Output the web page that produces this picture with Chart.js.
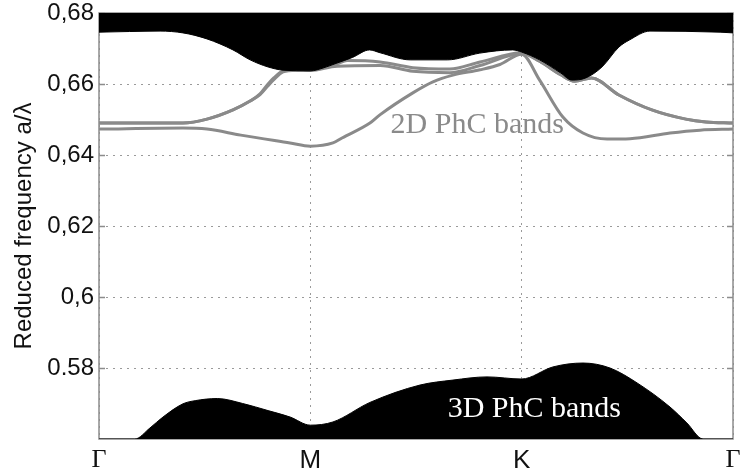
<!DOCTYPE html>
<html>
<head>
<meta charset="utf-8">
<script src="https://cdn.jsdelivr.net/npm/chart.js@4.4.1/dist/chart.umd.min.js"></script>
<style>
  html, body { margin: 0; padding: 0; background: #fff; }
</style>
</head>
<body>
<canvas id="bands" width="741" height="473"></canvas>
<script>
// k path positions and labels
const kTicks = [0, 1, 2, 3];
const kLabels = ['Γ', 'M', 'K', 'Γ'];
const yTicks = [0.58, 0.6, 0.62, 0.64, 0.66, 0.68];
const yLabels = ['0.58', '0,6', '0,62', '0,64', '0,66', '0,68'];
const bandNotes = ['2D PhC bands', '3D PhC bands'];

// lower edge of the 3D bands at the top (filled up to the frame)
const topK = [0, 0.289, 0.397, 0.511, 0.634, 0.715, 0.8, 0.871, 1.0, 1.06, 1.126, 1.2, 1.28, 1.33, 1.472, 1.65, 1.802, 1.958, 2.0, 2.085, 2.185, 2.237, 2.303, 2.38, 2.46, 2.51, 2.607, 2.939, 3];
const topF = [0.6746, 0.6749, 0.6744, 0.6727, 0.6696, 0.6668, 0.6648, 0.6639, 0.6637, 0.6645, 0.6659, 0.6675, 0.6696, 0.6688, 0.6668, 0.6668, 0.6687, 0.6696, 0.6690, 0.6668, 0.6631, 0.6611, 0.6617, 0.6648, 0.6704, 0.6724, 0.6749, 0.6746, 0.6744];

// upper edge of the 3D bands at the bottom
const botK = [0, 0.17, 0.241, 0.303, 0.397, 0.455, 0.56, 0.68, 0.8, 0.904, 1.0, 1.107, 1.282, 1.519, 1.675, 1.836, 2.0, 2.148, 2.29, 2.418, 2.546, 2.702, 2.782, 2.858, 3];
const botF = [0.56, 0.56, 0.5631, 0.5662, 0.5699, 0.5708, 0.5714, 0.5700, 0.5680, 0.5662, 0.5639, 0.5648, 0.5703, 0.5752, 0.5766, 0.5775, 0.5769, 0.5803, 0.5814, 0.5800, 0.5758, 0.5690, 0.5645, 0.56, 0.56];

// 2D PhC bands
const lowK = [0, 0.397, 0.511, 0.671, 0.904, 1.0, 1.107, 1.15, 1.282, 1.329, 1.485, 1.58, 1.675, 1.803, 1.897, 2.0, 2.085, 2.195, 2.29, 2.404, 2.513, 2.702, 2.844, 3];
const lowF = [0.6473, 0.6476, 0.6473, 0.6456, 0.6434, 0.6425, 0.6434, 0.6448, 0.6490, 0.6513, 0.6575, 0.6606, 0.6625, 0.6640, 0.6655, 0.6684, 0.6611, 0.6507, 0.6462, 0.6445, 0.6446, 0.6462, 0.6470, 0.6473];

const midK = [0, 0.397, 0.511, 0.634, 0.715, 0.762, 0.8, 0.827, 0.871, 0.93, 1.0, 1.126, 1.33, 1.485, 1.66, 1.803, 2.0, 2.085, 2.185, 2.25, 2.33, 2.46, 2.616, 2.777, 2.872, 3];
const midF = [0.6490, 0.6490, 0.6501, 0.6527, 0.6552, 0.6570, 0.6595, 0.6612, 0.6634, 0.6639, 0.6638, 0.6650, 0.6652, 0.6636, 0.6632, 0.6652, 0.6686, 0.6664, 0.6626, 0.6608, 0.6617, 0.6569, 0.6527, 0.6501, 0.6493, 0.6490];

const highK = [0, 0.397, 0.511, 0.634, 0.715, 0.762, 0.8, 0.827, 0.871, 0.93, 1.0, 1.126, 1.174, 1.33, 1.485, 1.66, 1.803, 2.0, 2.085, 2.185, 2.25, 2.33, 2.46, 2.616, 2.777, 2.872, 3];
const highF = [0.6490, 0.6490, 0.6501, 0.6527, 0.6552, 0.6572, 0.6600, 0.6617, 0.6637, 0.6640, 0.6640, 0.6657, 0.6666, 0.6662, 0.6646, 0.6642, 0.6662, 0.6688, 0.6664, 0.6626, 0.6608, 0.6617, 0.6569, 0.6527, 0.6501, 0.6493, 0.6490];

const toPts = (ks, fs) => ks.map((k, i) => ({ x: k, y: fs[i] }));

const BAND_GRAY = '#8a8a8a';

const frameAndNotes = {
  id: 'frameAndNotes',
  beforeDatasetsDraw(chart) {
    const { ctx, chartArea: a, scales: { y } } = chart;
    ctx.save();
    ctx.strokeStyle = '#8c8c8c';
    ctx.lineWidth = 1.5;
    ctx.strokeRect(a.left, a.top, a.right - a.left, a.bottom - a.top);
    ctx.beginPath();
    yTicks.forEach(v => {
      const py = Math.round(y.getPixelForValue(v)) + 0.5;
      ctx.moveTo(a.left, py); ctx.lineTo(a.left + 6, py);
      ctx.moveTo(a.right, py); ctx.lineTo(a.right - 6, py);
    });
    ctx.stroke();
    ctx.restore();
  },
  afterDatasetsDraw(chart) {
    const { ctx, scales: { x, y } } = chart;
    ctx.save();
    ctx.font = '30px "Liberation Serif"';
    ctx.textAlign = 'center';
    ctx.textBaseline = 'alphabetic';
    ctx.fillStyle = BAND_GRAY;
    ctx.fillText(bandNotes[0], x.getPixelForValue(1.79), y.getPixelForValue(0.6462));
    ctx.fillStyle = '#fff';
    ctx.fillText(bandNotes[1], x.getPixelForValue(2.06), y.getPixelForValue(0.5662));
    ctx.restore();
  }
};

const fillSet = (data, fill) => ({
  data, fill,
  backgroundColor: '#000',
  borderColor: '#000',
  borderWidth: 1,
  pointRadius: 0,
  cubicInterpolationMode: 'monotone'
});
const bandSet = (data) => ({
  data,
  fill: false,
  borderColor: BAND_GRAY,
  borderWidth: 3,
  pointRadius: 0,
  cubicInterpolationMode: 'monotone'
});

new Chart(document.getElementById('bands'), {
  type: 'line',
  data: {
    datasets: [
      fillSet(toPts(topK, topF), 'end'),
      fillSet(toPts(botK, botF), 'start'),
      bandSet(toPts(lowK, lowF)),
      bandSet(toPts(midK, midF)),
      bandSet(toPts(highK, highF))
    ]
  },
  options: {
    responsive: false,
    animation: false,
    layout: { padding: { top: 13, right: 8, left: 0, bottom: 0 } },
    plugins: { legend: { display: false }, tooltip: { enabled: false } },
    scales: {
      x: {
        type: 'linear',
        min: 0,
        max: 3,
        afterBuildTicks: s => { s.ticks = kTicks.map(v => ({ value: v })); },
        afterFit: s => { s.height = 34; s.paddingLeft = 0; s.paddingRight = 0; },
        border: { display: false, dash: [2, 5] },
        grid: { color: '#9a9a9a', lineWidth: 1, drawTicks: false },
        ticks: {
          autoSkip: false,
          maxRotation: 0,
          padding: 6,
          color: '#111',
          callback: (v, i) => kLabels[i],
          font: c => ({ family: kLabels[c.index] === 'Γ' ? '"Liberation Serif"' : '"Liberation Sans"', size: 26 })
        }
      },
      y: {
        min: 0.56,
        max: 0.68,
        afterBuildTicks: s => { s.ticks = yTicks.map(v => ({ value: v })); },
        afterFit: s => { s.width = 99; s.paddingTop = 0; s.paddingBottom = 0; },
        border: { display: false, dash: [2, 5] },
        grid: { color: '#9a9a9a', lineWidth: 1, drawTicks: false },
        ticks: {
          padding: 5,
          color: '#111',
          callback: (v, i) => yLabels[i],
          font: { family: '"Liberation Sans"', size: 24 }
        },
        title: {
          display: true,
          text: 'Reduced frequency a/λ',
          color: '#111',
          padding: { top: 10, bottom: 0 },
          font: { family: '"Liberation Sans"', size: 24 }
        }
      }
    }
  },
  plugins: [frameAndNotes]
});
</script>
</body>
</html>
